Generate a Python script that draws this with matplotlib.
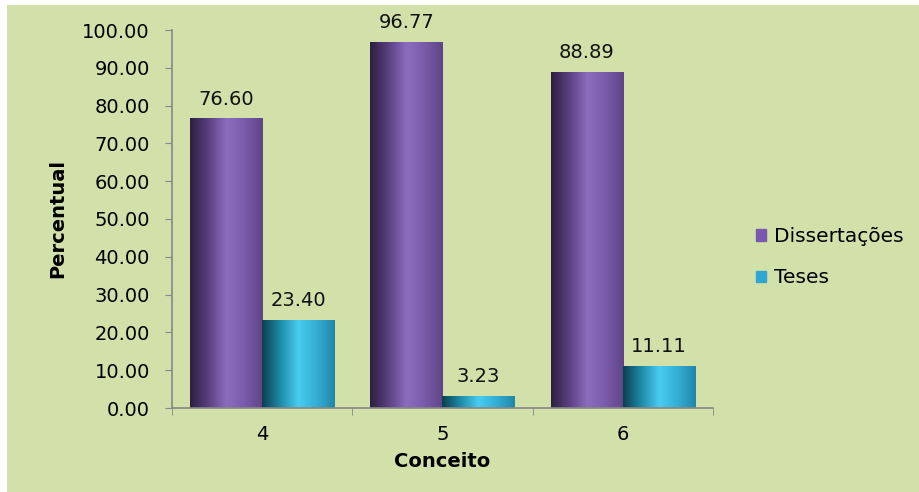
import numpy as np
import matplotlib.pyplot as plt
from matplotlib.colors import LinearSegmentedColormap
from matplotlib.patches import Rectangle

# Data
categories = ['4', '5', '6']
dissertacoes = [76.60, 96.77, 88.89]
teses = [23.40, 3.23, 11.11]
series_names = ['Dissertações', 'Teses']

bg = '#d2e0aa'
fig = plt.figure(figsize=(9.19, 4.92), dpi=100)
fig.patch.set_facecolor(bg)
# thin white border on top and left, as in the source image
fig.add_artist(Rectangle((0, 0), 7 / 919, 1, transform=fig.transFigure,
                         facecolor='white', edgecolor='none'))
fig.add_artist(Rectangle((0, 487 / 492), 1, 5 / 492, transform=fig.transFigure,
                         facecolor='white', edgecolor='none'))

ax = fig.add_axes([172 / 919, 84 / 492, 541 / 919, 378 / 492])
ax.set_facecolor('none')

purple_cmap = LinearSegmentedColormap.from_list(
    'purp', ['#2c1f3e', '#5a4080', '#8c6cbe', '#7a5aab', '#5e4587'])
cyan_cmap = LinearSegmentedColormap.from_list(
    'cyan', ['#0b3f4e', '#1f8aa8', '#48ccf0', '#34aed4', '#2187a8'])

x = np.arange(len(categories)) + 4
w = 0.4
grad = np.linspace(0, 1, 256).reshape(1, -1)


def gradient_bars(xpos, vals, cmap, color):
    bars = ax.bar(xpos, vals, w, color=color, edgecolor='none')
    for b in bars:
        b.set_facecolor('none')
        x0, y0 = b.get_x(), b.get_y()
        im = ax.imshow(grad, cmap=cmap, aspect='auto', interpolation='bicubic',
                       extent=(x0, x0 + b.get_width(), y0, y0 + b.get_height()),
                       zorder=2)
        im.set_clip_path(b)
    for xi, v in zip(xpos, vals):
        ax.annotate(f'{v:.2f}', (xi, v), xytext=(0, 7), textcoords='offset points',
                    ha='center', va='bottom', fontsize=14, color='#111111')
    return bars


gradient_bars(x - w / 2, dissertacoes, purple_cmap, '#7a5aab')
gradient_bars(x + w / 2, teses, cyan_cmap, '#34aed4')

ax.set_xlim(3.5, 6.5)
ax.set_ylim(0, 100)
ax.set_yticks(np.arange(0, 101, 10))
ax.set_yticklabels([f'{v:.2f}' for v in np.arange(0, 101, 10)], fontsize=14)
ax.set_xticks(x)
ax.set_xticklabels(categories, fontsize=14)
ax.set_xticks([3.5, 4.5, 5.5, 6.5], minor=True)
ax.tick_params(axis='x', which='major', length=0, pad=12)
ax.tick_params(axis='x', which='minor', length=5, color='#888888', direction='out')
ax.tick_params(axis='y', length=5, color='#888888', direction='out', pad=11)

for s in ['top', 'right']:
    ax.spines[s].set_visible(False)
for s in ['left', 'bottom']:
    ax.spines[s].set_color('#888888')
    ax.spines[s].set_linewidth(1.2)

ax.set_ylabel('Percentual', fontsize=14, fontweight='bold', labelpad=11)
ax.set_xlabel('Conceito', fontsize=14, fontweight='bold', labelpad=6)

handles = [Rectangle((0, 0), 1, 1, color='#7a58ae'), Rectangle((0, 0), 1, 1, color='#2ea8d2')]
fig.legend(handles, series_names, loc='center left', bbox_to_anchor=(756 / 919, 0.477),
           frameon=False, fontsize=14.5, handlelength=0.5, handleheight=0.5,
           handletextpad=0.4, labelspacing=1.1, borderaxespad=0, borderpad=0)

fig.savefig('out.png', dpi=100, facecolor=fig.get_facecolor())
